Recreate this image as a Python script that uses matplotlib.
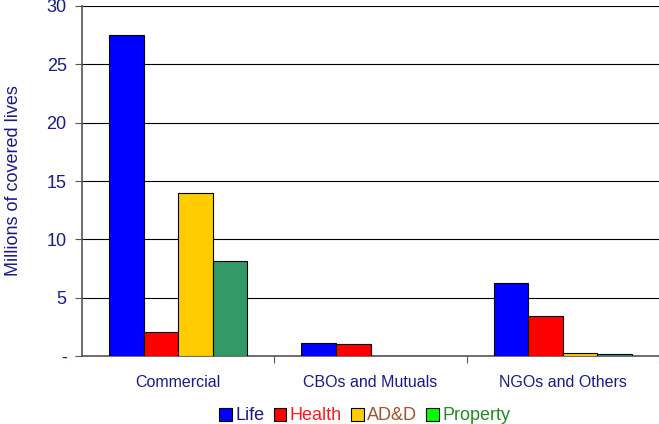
import matplotlib
matplotlib.use("Agg")
import matplotlib.pyplot as plt
import numpy as np
from matplotlib.patches import Patch

plt.rcParams['font.family'] = ['Liberation Sans', 'DejaVu Sans']

categories = ["Commercial", "CBOs and Mutuals", "NGOs and Others"]
series_names = ["Life", "Health", "AD&D", "Property"]
life = [27.5, 1.1, 6.25]
health = [2.1, 1.0, 3.4]
add = [14.0, 0.0, 0.25]
prop = [8.15, 0.0, 0.15]
yticks = [0, 5, 10, 15, 20, 25, 30]
ytick_labels = ["-", "5", "10", "15", "20", "25", "30"]

bar_colors = ["#0000ff", "#ff0000", "#ffcc00", "#339966"]
legend_colors = ["#0000ff", "#ff0000", "#ffcc00", "#00ff00"]
legend_text_colors = ["#1a1a8c", "#ff1a1a", "#a0522d", "#228b22"]
navy = "#1a1a8c"

fig = plt.figure(figsize=(6.59, 4.24), dpi=100)
ax = fig.add_axes([82 / 659, 68 / 424, 577 / 659, 350 / 424])

x = np.arange(len(categories))
width = 0.18
values = [life, health, add, prop]
for i, (vals, c) in enumerate(zip(values, bar_colors)):
    ax.bar(x + (i - 1.5) * width, vals, width, color=c, edgecolor="black",
           linewidth=0.8, zorder=3)

ax.set_xlim(-0.5, 2.5)
ax.set_ylim(0, 30)
ax.set_yticks(yticks)
ax.set_yticklabels(ytick_labels, color=navy, fontsize=13)
ax.yaxis.grid(True, color="black", linewidth=0.8, zorder=0)
ax.set_axisbelow(True)

ax.set_xticks([0.5, 1.5, 2.5])
ax.set_xticklabels([])
ax.set_xticks(x, minor=True)
ax.set_xticklabels(categories, minor=True, color=navy, fontsize=11.5)
ax.tick_params(axis="x", which="minor", length=0, pad=14)
ax.tick_params(axis="x", which="major", length=5, direction="out", color="#555555")
ax.tick_params(axis="y", length=5, direction="out", color="#555555", pad=6)

for s in ["top", "right"]:
    ax.spines[s].set_visible(False)
ax.spines["left"].set_color("#555555")
ax.spines["bottom"].set_color("#555555")
ax.spines["left"].set_linewidth(1.2)
ax.spines["bottom"].set_linewidth(1.2)

ax.set_ylabel("Millions of covered lives", color=navy, fontsize=13)
ax.yaxis.set_label_coords(-60 / 577, 0.5)

handles = [Patch(facecolor=c, edgecolor="black", linewidth=0.8) for c in legend_colors]
leg = fig.legend(handles, series_names, loc="center", bbox_to_anchor=(365 / 659, 1 - 416 / 424),
                 ncol=4, frameon=False, fontsize=13, handlelength=0.7, handleheight=0.7,
                 handletextpad=0.2, columnspacing=0.5, borderpad=0)
for t, c in zip(leg.get_texts(), legend_text_colors):
    t.set_color(c)

fig.savefig("out.png", dpi=100)
